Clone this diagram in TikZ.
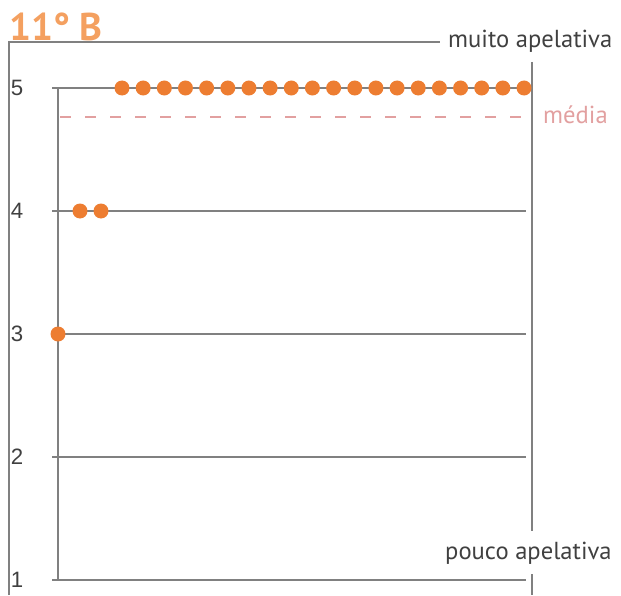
\documentclass[tikz,border=0pt]{standalone}
\usepackage{fontspec}
\setmainfont{PT Sans}
\newfontfamily\numfont{Liberation Sans}

\begin{document}
\begin{tikzpicture}
		[x=0.3mm,y=-0.3mm,line cap=butt,
		%Styles
		frame line/.style={framecolor,line width=1.3pt},
		grid line/.style={framecolor,line width=1.3pt},
		mean line/.style={meancolor,line width=1pt,dash pattern=on 3.3mm off 4.2mm},
		level text/.style={font=\numfont\fontsize{19}{19}\selectfont,text=textcolor},
		scale text/.style={font=\fontsize{21}{21}\selectfont,text=textcolor,inner sep=0pt},
		dot/.style={circle,fill=dotcolor,inner sep=0pt,minimum size=4.5mm}
		]
		
		%Colors
		\definecolor{framecolor}{RGB}{128,128,128}
		\definecolor{textcolor}{RGB}{64,64,64}
		\definecolor{dotcolor}{RGB}{237,125,49}
		\definecolor{titlecolor}{RGB}{244,160,96}
		\definecolor{meancolor}{RGB}{226,160,160}
		
		\useasboundingbox (0,0) rectangle (621,595);
		
		%The graphic
		\node[anchor=west,inner sep=0pt,font=\bfseries\fontsize{33}{33}\selectfont,text=titlecolor] (title) at (9,27) {11° B};
		
		%Outer frame
		\coordinate (frame top left) at (9,42);
		\coordinate (frame bottom left) at (9,595);
		\coordinate (frame top right) at (440,42);
		\node[scale text,anchor=west] (high) at (448,41) {muito apelativa};
		\node[scale text,anchor=west] (low) at (445,553) {pouco apelativa};
		\draw[frame line] (frame bottom left) -- (frame top left) -- (frame top right);
		\draw[frame line] (532,62) -- (532,531);
		\draw[frame line] (532,574) -- (532,595);
		
		%Levels
		\coordinate (axis top) at (58,88);
		\coordinate (axis bottom) at (58,580);
		\draw[grid line] (axis top) -- (axis bottom);
		\foreach \lvl in {1,...,5}{
			\coordinate (level \lvl) at (52,{580-123*(\lvl-1)});
			\node[level text] (label \lvl) at (17,{580-123*(\lvl-1)}) {\lvl};
			\draw[grid line] (level \lvl) -- ++(474,0);
		}
		
		%Mean
		\coordinate (mean start) at (60,117);
		\draw[mean line] (mean start) -- (526,117);
		\node[scale text,text=meancolor,anchor=west] (mean) at (543,115) {média};
		
		%Answers
		\foreach \i in {0,...,19}
			\node[dot] (five \i) at ({122+21.16*\i},88) {};
		\node[dot] (four 1) at (80,211) {};
		\node[dot] (four 2) at (101,211) {};
		\node[dot] (three 1) at (58,334) {};
	\end{tikzpicture}
\end{document}
